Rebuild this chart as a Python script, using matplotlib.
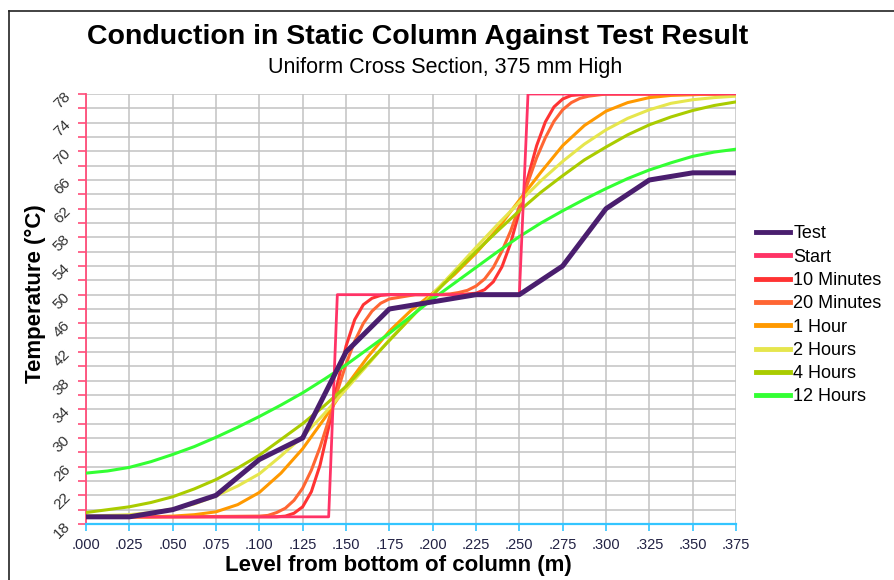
import matplotlib
matplotlib.use("Agg")
import matplotlib.pyplot as plt
from matplotlib.lines import Line2D
from matplotlib.ticker import MultipleLocator, FixedLocator, FuncFormatter

plt.rcParams['font.family'] = ['Liberation Sans', 'DejaVu Sans']

# ---------------- data ----------------
test_level = [0.000, 0.025, 0.050, 0.075, 0.100, 0.125, 0.150, 0.175,
              0.200, 0.225, 0.250, 0.275, 0.300, 0.325, 0.350, 0.375]
test_temp = [19, 19, 20, 22, 27, 30, 42, 48, 49, 50, 50, 54, 62, 66, 67, 67]

start_level = [0.000, 0.140, 0.145, 0.250, 0.255, 0.375]
start_temp = [19, 19, 50, 50, 78, 78]

# levels read for the two fast-changing curves
level_fast = [0.000, 0.050, 0.100, 0.105, 0.110, 0.115, 0.120, 0.125, 0.130, 0.135,
              0.140, 0.1425, 0.145, 0.150, 0.155, 0.160, 0.165, 0.170, 0.175,
              0.190, 0.200, 0.210, 0.215, 0.220, 0.225, 0.230, 0.235, 0.240, 0.245, 0.250,
              0.2525, 0.255, 0.260, 0.265, 0.270, 0.275, 0.280, 0.285, 0.290, 0.300,
              0.325, 0.375]
min10 = [19.0, 19.0, 19.0, 19.0, 19.0, 19.1, 19.5, 20.4, 22.5, 26.2,
         31.5, 34.5, 37.5, 42.8, 46.5, 48.6, 49.5, 49.9, 50.0,
         50.0, 50.0, 50.0, 50.0, 50.1, 50.2, 50.7, 51.8, 53.9, 57.2, 61.6,
         64.0, 66.4, 70.8, 74.1, 76.2, 77.3, 77.8, 77.9, 78.0, 78.0,
         78.0, 78.0]
min20 = [19.0, 19.0, 19.1, 19.2, 19.6, 20.2, 21.3, 23.0, 25.5, 28.7,
         32.5, 34.5, 36.5, 40.3, 43.5, 46.0, 47.7, 48.8, 49.4,
         50.0, 50.0, 50.1, 50.3, 50.6, 51.2, 52.2, 53.8, 56.1, 58.9, 62.3,
         64.0, 65.7, 69.1, 71.9, 74.2, 75.8, 76.8, 77.4, 77.7, 78.0,
         78.0, 78.0]

# levels read for the slower curves (every 12.5 mm)
level_slow = [0.0000, 0.0125, 0.0250, 0.0375, 0.0500, 0.0625, 0.0750, 0.0875,
              0.1000, 0.1125, 0.1250, 0.1375, 0.1500, 0.1625, 0.1750, 0.1875,
              0.2000, 0.2125, 0.2250, 0.2375, 0.2500, 0.2625, 0.2750, 0.2875,
              0.3000, 0.3125, 0.3250, 0.3375, 0.3500, 0.3625, 0.3750]
hour1 = [19.0, 19.0, 19.0, 19.0, 19.1, 19.3, 19.7, 20.7, 22.4, 25.1, 28.5,
         32.7, 37.2, 41.3, 44.9, 47.8, 50.2, 52.8, 55.8, 59.2, 63.2, 67.1,
         70.8, 73.6, 75.6, 76.8, 77.5, 77.8, 77.9, 78.0, 78.0]
hour2 = [19.1, 19.2, 19.3, 19.6, 20.1, 20.8, 21.9, 23.3, 25.0, 27.5, 30.2,
         33.4, 36.8, 40.2, 43.7, 46.8, 50.1, 53.3, 56.6, 59.8, 62.9, 65.9,
         68.6, 71.0, 73.0, 74.6, 75.8, 76.7, 77.2, 77.5, 77.7]
hour4 = [19.6, 20.0, 20.4, 21.0, 21.8, 22.9, 24.2, 25.8, 27.6, 29.8, 32.0,
         34.5, 37.2, 40.4, 43.6, 46.8, 49.9, 53.0, 56.0, 58.9, 61.7, 64.3,
         66.6, 68.8, 70.6, 72.3, 73.7, 74.8, 75.7, 76.4, 76.9]
hour12 = [25.1, 25.4, 25.9, 26.7, 27.7, 28.8, 30.1, 31.5, 33.0, 34.6, 36.3,
          38.2, 40.2, 42.4, 44.6, 47.0, 49.4, 51.6, 53.8, 56.0, 58.1, 60.0,
          61.7, 63.3, 64.8, 66.2, 67.4, 68.4, 69.3, 69.9, 70.3]

series_names = ["10 Minutes", "20 Minutes", "1 Hour", "2 Hours", "4 Hours", "12 Hours"]
series_levels = [level_fast, level_fast, level_slow, level_slow, level_slow, level_slow]
series_values = [min10, min20, hour1, hour2, hour4, hour12]
series_colors = ["#ff3333", "#ff6633", "#ff9900", "#e6e64d", "#aacc00", "#33ff33"]

y_label_ticks = [18, 22, 26, 30, 34, 38, 42, 46, 50, 54, 58, 62, 66, 70, 74, 78]

# ---------------- figure ----------------
fig = plt.figure(figsize=(8.94, 5.80), dpi=100)
fig.patch.set_facecolor("white")
ax = fig.add_axes([86 / 894, 1 - 524 / 580, (736 - 86) / 894, (524 - 94) / 580])

ax.set_xlim(0, 0.375)
ax.set_ylim(18, 78)

ax.xaxis.set_major_locator(MultipleLocator(0.025))
ax.xaxis.set_major_formatter(FuncFormatter(lambda v, p: f"{v:.3f}"[1:] if v >= 0 else ""))
ax.yaxis.set_major_locator(FixedLocator(y_label_ticks))
ax.yaxis.set_minor_locator(MultipleLocator(2))
ax.grid(True, which="both", color="#c2c2c2", linewidth=1.1)
ax.set_axisbelow(True)

for s in ["top", "right"]:
    ax.spines[s].set_visible(False)
ax.spines["left"].set_color("#ff4d79")
ax.spines["left"].set_linewidth(1.3)
ax.spines["bottom"].set_color("#33c5ff")
ax.spines["bottom"].set_linewidth(1.6)

ax.tick_params(axis="y", which="both", length=6, width=1.2, color="#ff4d79",
               labelsize=11, labelcolor="#333333", pad=7)
ax.tick_params(axis="x", which="both", length=5, width=1.2, color="#33c5ff",
               labelsize=10.5, labelcolor="#222244", pad=5)
for lab in ax.get_yticklabels():
    lab.set_rotation(45)
    lab.set_ha("right")
    lab.set_va("center")
    lab.set_rotation_mode("anchor")

# lines
ax.plot(test_level, test_temp, color="#4a1e6e", lw=3.6, label="Test", zorder=5)
ax.plot(start_level, start_temp, color="#ff3366", lw=2.0, label="Start", zorder=4)
for name, lv, vals, col in zip(series_names, series_levels, series_values, series_colors):
    ax.plot(lv, vals, color=col, lw=2.2, label=name, zorder=3)

fig.text(398 / 894, 1 - 566 / 580, "Level from bottom of column (m)",
         ha="center", va="center", fontsize=16, fontweight="bold")
fig.text(35 / 894, 1 - 294 / 580, "Temperature (°C)", rotation=90,
         ha="center", va="center", fontsize=16, fontweight="bold")

fig.text(418 / 894, 1 - 37 / 580, "Conduction in Static Column Against Test Result",
         ha="center", va="center", fontsize=20.5, fontweight="bold")
fig.text(445 / 894, 1 - 67 / 580, "Uniform Cross Section, 375 mm High",
         ha="center", va="center", fontsize=15.5)

leg = ax.legend(loc="upper left", bbox_to_anchor=(749 / 894, 1 - 218 / 580),
                bbox_transform=fig.transFigure, frameon=False, fontsize=13,
                handlelength=1.85, handletextpad=0.2, labelspacing=0.35,
                borderaxespad=0)
for h in leg.get_lines():
    h.set_linewidth(3.5)

# outer frame lines
fig.add_artist(Line2D([8.5 / 894, 8.5 / 894], [0, 1 - 10.5 / 580], color="#222222",
                      lw=1.2, transform=fig.transFigure))
fig.add_artist(Line2D([8.5 / 894, 1], [1 - 10.5 / 580, 1 - 10.5 / 580], color="#222222",
                      lw=1.2, transform=fig.transFigure))

fig.savefig("out.png", dpi=100)
